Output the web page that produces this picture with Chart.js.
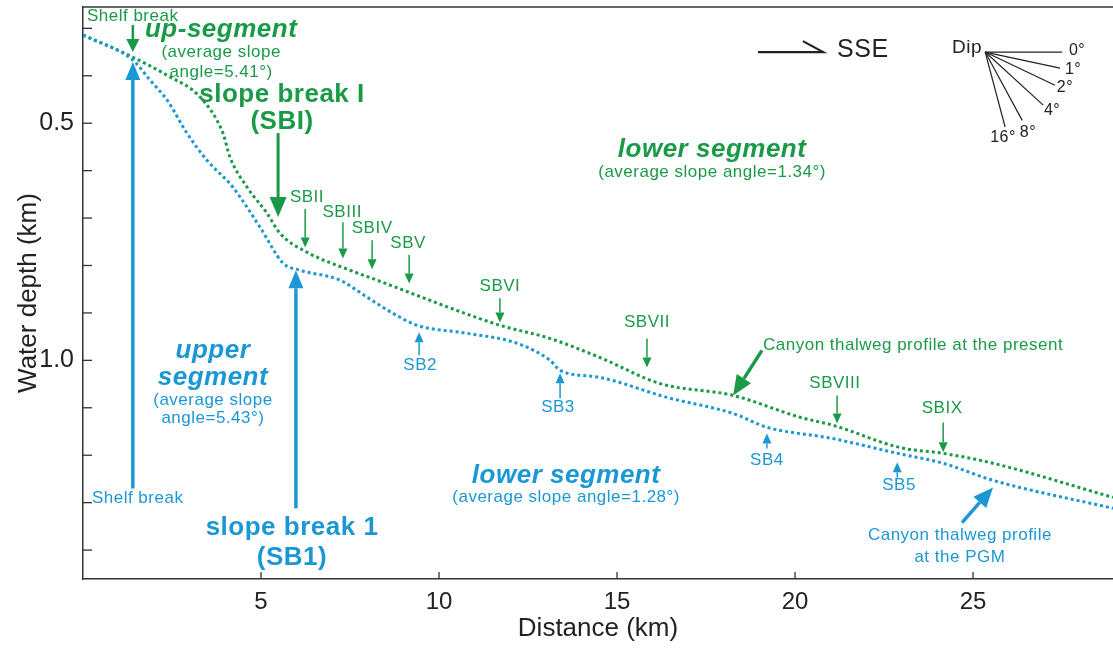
<!DOCTYPE html>
<html><head><meta charset="utf-8">
<script src="https://cdn.jsdelivr.net/npm/chart.js@4/dist/chart.umd.min.js"></script>
<style>html,body{margin:0;padding:0;background:#fff;overflow:hidden}</style>
</head><body>
<canvas id="c" width="1113" height="648"></canvas>
<script>
// ---- data (distance in km, water depth in km) ----
const presentDistance = [0, 1.40, 2.36, 3.29, 3.93, 4.13, 4.61, 5.17, 5.53, 6.29, 7.50, 8.26, 9.38, 10.51, 11.71, 13.12, 14.52, 16.21, 18.26, 20.14, 21.07, 22.95, 24.16, 25.56, 28.93];
const presentDepth    = [0.314, 0.361, 0.399, 0.445, 0.521, 0.572, 0.635, 0.690, 0.732, 0.772, 0.810, 0.831, 0.863, 0.895, 0.926, 0.954, 0.994, 1.049, 1.074, 1.120, 1.137, 1.184, 1.196, 1.217, 1.289];
const pgmDistance = [0, 1.40, 1.88, 2.36, 2.92, 3.48, 4.21, 4.97, 5.62, 6.10, 7.22, 7.98, 8.71, 9.38, 10.79, 12.19, 13.12, 13.40, 14.52, 16.40, 18.26, 19.21, 21.07, 22.87, 24.16, 25.56, 28.93];
const pgmDepth    = [0.314, 0.367, 0.409, 0.451, 0.521, 0.578, 0.635, 0.719, 0.795, 0.810, 0.831, 0.867, 0.901, 0.926, 0.943, 0.964, 1.000, 1.021, 1.036, 1.078, 1.112, 1.141, 1.165, 1.196, 1.217, 1.253, 1.312];
const xTickValues = [5, 10, 15, 20, 25];
const yTickValues = [0.3, 0.4, 0.5, 0.6, 0.7, 0.8, 0.9, 1.0, 1.1, 1.2, 1.3, 1.4];
const yTickLabels = {'0.5': '0.5', '1.0': '1.0'};
const xRange = [0, 28.93];
const yRange = [0.255, 1.461];

// ---- annotation content (data coordinates) ----
const GREEN = '#1a9a47', BLUE = '#1b97d4', BLACK = '#222';
const SMALL = '17px "Liberation Sans"', BIG = 'bold 26px "Liberation Sans"', BIGI = 'italic bold 26px "Liberation Sans"';
const greenBreaks = [ // label, label x, label y, arrow x, arrow from, arrow to
  ['SBII', 6.29, 0.656, 6.24, 0.681, 0.762],
  ['SBIII', 7.28, 0.688, 7.30, 0.709, 0.785],
  ['SBIV', 8.12, 0.722, 8.12, 0.747, 0.808],
  ['SBV', 9.13, 0.753, 9.16, 0.778, 0.838],
  ['SBVI', 11.71, 0.844, 11.71, 0.869, 0.920],
  ['SBVII', 15.84, 0.920, 15.84, 0.954, 1.015],
  ['SBVIII', 21.12, 1.049, 21.18, 1.074, 1.133],
  ['SBIX', 24.13, 1.101, 24.16, 1.131, 1.194]
];
const blueBreaks = [
  ['SB2', 9.47, 1.011, 9.44, 0.989, 0.941],
  ['SB3', 13.34, 1.099, 13.40, 1.080, 1.027],
  ['SB4', 19.21, 1.211, 19.21, 1.186, 1.154],
  ['SB5', 22.92, 1.264, 22.87, 1.247, 1.215]
];
const texts = [ // text, x, y, color, font, align
  ['Shelf break', 0.11, 0.274, GREEN, SMALL, 'left'],
  ['up-segment', 3.88, 0.304, GREEN, BIGI, 'center'],
  ['(average slope', 3.88, 0.350, GREEN, SMALL, 'center'],
  ['angle=5.41°)', 3.88, 0.392, GREEN, SMALL, 'center'],
  ['slope break I', 5.59, 0.441, GREEN, BIG, 'center'],
  ['(SBI)', 5.59, 0.498, GREEN, BIG, 'center'],
  ['lower segment', 17.67, 0.557, GREEN, BIGI, 'center'],
  ['(average slope angle=1.34°)', 17.67, 0.603, GREEN, SMALL, 'center'],
  ['Canyon thalweg profile at the present', 19.10, 0.968, GREEN, SMALL, 'left'],
  ['Shelf break', 0.25, 1.291, BLUE, SMALL, 'left'],
  ['slope break 1', 5.87, 1.354, BLUE, BIG, 'center'],
  ['(SB1)', 5.87, 1.416, BLUE, BIG, 'center'],
  ['upper', 3.65, 0.979, BLUE, BIGI, 'center'],
  ['segment', 3.65, 1.036, BLUE, BIGI, 'center'],
  ['(average slope', 3.65, 1.084, BLUE, SMALL, 'center'],
  ['angle=5.43°)', 3.65, 1.122, BLUE, SMALL, 'center'],
  ['lower segment', 13.57, 1.243, BLUE, BIGI, 'center'],
  ['(average slope angle=1.28°)', 13.57, 1.289, BLUE, SMALL, 'center'],
  ['Canyon thalweg profile', 24.63, 1.369, BLUE, SMALL, 'center'],
  ['at the PGM', 24.63, 1.416, BLUE, SMALL, 'center'],
  ['SSE', 21.18, 0.346, BLACK, '25px "Liberation Sans"', 'left'],
  ['Dip', 25.25, 0.340, BLACK, '19px "Liberation Sans"', 'right']
];
const bigArrows = [ // x0,y0 -> x1,y1 (tip), color, shaft width, head length, head width
  [1.40, 0.293, 1.40, 0.350, GREEN, 2.5, 13, 13],
  [5.48, 0.521, 5.48, 0.698, GREEN, 3, 20, 17],
  [19.07, 0.979, 18.26, 1.074, GREEN, 3.5, 20, 17],
  [1.40, 1.270, 1.40, 0.371, BLUE, 3.5, 18, 15],
  [5.98, 1.312, 5.98, 0.810, BLUE, 3.5, 18, 15],
  [24.69, 1.342, 25.56, 1.268, BLUE, 3.5, 20, 17]
];
const dipOrigin = [25.34, 0.350];
const dipLines = [ // end x, end y, label, label x, label y
  [27.50, 0.350, '0°', 27.92, 0.346],
  [27.44, 0.384, '1°', 27.81, 0.388],
  [27.30, 0.420, '2°', 27.58, 0.424],
  [26.97, 0.462, '4°', 27.22, 0.473],
  [26.38, 0.494, '8°', 26.54, 0.519],
  [25.90, 0.508, '16°', 25.84, 0.530]
];
const sseArrow = [18.96, 20.79, 0.350, 20.22, 0.327];

function arrow(ctx, x0, y0, x1, y1, color, lw, hl, hw) {
  const a = Math.atan2(y1 - y0, x1 - x0);
  const bx = x1 - hl * Math.cos(a), by = y1 - hl * Math.sin(a);
  ctx.strokeStyle = color; ctx.fillStyle = color; ctx.lineWidth = lw; ctx.lineCap = 'butt';
  ctx.beginPath(); ctx.moveTo(x0, y0); ctx.lineTo(bx, by); ctx.stroke();
  ctx.beginPath(); ctx.moveTo(x1, y1);
  ctx.lineTo(bx + hw / 2 * Math.sin(a), by - hw / 2 * Math.cos(a));
  ctx.lineTo(bx - hw / 2 * Math.sin(a), by + hw / 2 * Math.cos(a));
  ctx.closePath(); ctx.fill();
}

const annotate = {
  id: 'annotate',
  beforeDraw(chart) {
    const ctx = chart.ctx; ctx.save(); ctx.fillStyle = '#fff';
    ctx.fillRect(0, 0, chart.width, chart.height); ctx.restore();
  },
  afterDatasetsDraw(chart) {
    const ctx = chart.ctx, xs = chart.scales.x, ys = chart.scales.y, ca = chart.chartArea;
    const X = v => xs.getPixelForValue(v), Y = v => ys.getPixelForValue(v);
    ctx.save();
    // frame: top line, inward ticks
    ctx.strokeStyle = '#333'; ctx.lineWidth = 1.5;
    ctx.beginPath(); ctx.moveTo(ca.left, ca.top); ctx.lineTo(ca.right, ca.top); ctx.stroke();
    ctx.lineWidth = 1.3;
    yTickValues.forEach(v => { const p = Y(v); ctx.beginPath(); ctx.moveTo(ca.left, p); ctx.lineTo(ca.left + 9, p); ctx.stroke(); });
    xTickValues.forEach(v => { const p = X(v); ctx.beginPath(); ctx.moveTo(p, ca.bottom); ctx.lineTo(p, ca.bottom - 7); ctx.stroke(); });
    // texts
    ctx.textBaseline = 'middle';
    ctx.letterSpacing = '0.5px';
    texts.forEach(([t, x, y, c, f, al]) => { ctx.fillStyle = c; ctx.font = f; ctx.textAlign = al; ctx.fillText(t, X(x), Y(y)); });
    // slope-break labels and small arrows
    ctx.textAlign = 'center';
    greenBreaks.forEach(([t, lx, ly, ax, a0, a1]) => {
      ctx.fillStyle = GREEN; ctx.font = SMALL; ctx.fillText(t, X(lx), Y(ly));
      arrow(ctx, X(ax), Y(a0), X(ax), Y(a1), GREEN, 1.5, 10, 9);
    });
    blueBreaks.forEach(([t, lx, ly, ax, a0, a1]) => {
      ctx.fillStyle = BLUE; ctx.font = SMALL; ctx.fillText(t, X(lx), Y(ly));
      arrow(ctx, X(ax), Y(a0), X(ax), Y(a1), BLUE, 1.5, 10, 9);
    });
    bigArrows.forEach(([x0, y0, x1, y1, c, lw, hl, hw]) => arrow(ctx, X(x0), Y(y0), X(x1), Y(y1), c, lw, hl, hw));
    // SSE half arrow
    ctx.strokeStyle = BLACK; ctx.lineWidth = 2.2;
    ctx.beginPath(); ctx.moveTo(X(sseArrow[0]), Y(sseArrow[2])); ctx.lineTo(X(sseArrow[1]), Y(sseArrow[2]));
    ctx.lineTo(X(sseArrow[3]), Y(sseArrow[4])); ctx.stroke();
    // dip legend
    ctx.lineWidth = 1.2; ctx.font = '16px "Liberation Sans"'; ctx.fillStyle = BLACK;
    dipLines.forEach(([ex, ey, t, tx, ty]) => {
      ctx.beginPath(); ctx.moveTo(X(dipOrigin[0]), Y(dipOrigin[1])); ctx.lineTo(X(ex), Y(ey)); ctx.stroke();
      ctx.fillText(t, X(tx), Y(ty));
    });
    ctx.restore();
  }
};

const lineStyle = (color) => ({
  borderColor: color, borderWidth: 3, borderDash: [3, 3], pointRadius: 0,
  cubicInterpolationMode: 'monotone', fill: false, borderCapStyle: 'butt'
});

new Chart(document.getElementById('c'), {
  type: 'line',
  data: {
    datasets: [
      Object.assign({ label: 'Canyon thalweg profile at the PGM', data: pgmDistance.map((x, i) => ({ x, y: pgmDepth[i] })) }, lineStyle(BLUE)),
      Object.assign({ label: 'Canyon thalweg profile at the present', data: presentDistance.map((x, i) => ({ x, y: presentDepth[i] })) }, lineStyle(GREEN))
    ]
  },
  options: {
    responsive: false, animation: false, devicePixelRatio: 1,
    layout: { padding: { left: 0, right: 0, top: 7, bottom: 0 } },
    plugins: { legend: { display: false }, tooltip: { enabled: false } },
    scales: {
      x: {
        type: 'linear', min: xRange[0], max: xRange[1],
        afterBuildTicks: s => { s.ticks = xTickValues.map(v => ({ value: v })); },
        afterFit: s => { s.height = 69; s.paddingLeft = 0; s.paddingRight = 0; },
        grid: { display: true, drawOnChartArea: false, drawTicks: false },
        border: { display: true, color: '#333', width: 1.5 },
        ticks: { color: '#222', font: { family: 'Liberation Sans', size: 24 }, padding: 9, maxRotation: 0, callback: v => String(v) },
        title: { display: true, text: 'Distance (km)', color: '#222', font: { family: 'Liberation Sans', size: 26 }, padding: { top: 0, bottom: 4 } }
      },
      y: {
        type: 'linear', reverse: true, min: yRange[0], max: yRange[1],
        afterBuildTicks: s => { s.ticks = yTickValues.map(v => ({ value: v })); },
        afterFit: s => { s.width = 83; s.paddingTop = 0; s.paddingBottom = 0; },
        grid: { display: true, drawOnChartArea: false, drawTicks: false },
        border: { display: true, color: '#333', width: 1.5 },
        ticks: { color: '#222', font: { family: 'Liberation Sans', size: 25 }, padding: 9, autoSkip: false,
          callback: v => yTickLabels[v.toFixed(1)] || '' },
        title: { display: true, text: 'Water depth (km)', color: '#222', font: { family: 'Liberation Sans', size: 26 }, padding: { top: 13, bottom: 0 } }
      }
    }
  },
  plugins: [annotate]
});
</script>
</body></html>
